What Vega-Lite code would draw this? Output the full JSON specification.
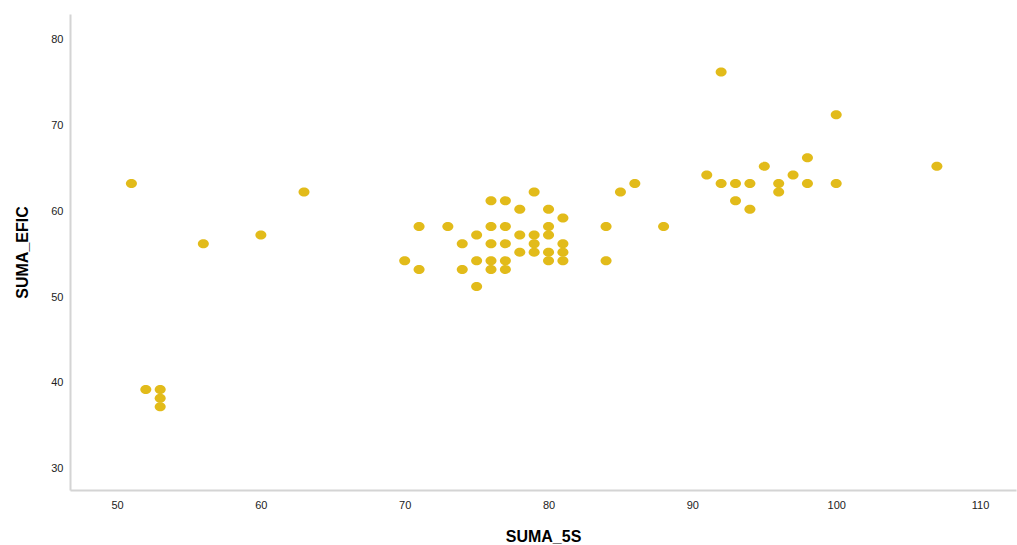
{
  "$schema": "https://vega.github.io/schema/vega-lite/v6.json",
  "width": 946,
  "height": 476,
  "autosize": {"type": "none"},
  "padding": {"left": 70, "top": 14, "right": 1, "bottom": 55},
  "background": "white",
  "config": {"view": {"stroke": null}},
  "data": {"values": [
    {"SUMA_5S": 51, "SUMA_EFIC": 63},
    {"SUMA_5S": 52, "SUMA_EFIC": 39},
    {"SUMA_5S": 53, "SUMA_EFIC": 39},
    {"SUMA_5S": 53, "SUMA_EFIC": 38},
    {"SUMA_5S": 53, "SUMA_EFIC": 37},
    {"SUMA_5S": 56, "SUMA_EFIC": 56},
    {"SUMA_5S": 60, "SUMA_EFIC": 57},
    {"SUMA_5S": 63, "SUMA_EFIC": 62},
    {"SUMA_5S": 70, "SUMA_EFIC": 54},
    {"SUMA_5S": 71, "SUMA_EFIC": 58},
    {"SUMA_5S": 71, "SUMA_EFIC": 53},
    {"SUMA_5S": 73, "SUMA_EFIC": 58},
    {"SUMA_5S": 74, "SUMA_EFIC": 56},
    {"SUMA_5S": 74, "SUMA_EFIC": 53},
    {"SUMA_5S": 75, "SUMA_EFIC": 57},
    {"SUMA_5S": 75, "SUMA_EFIC": 54},
    {"SUMA_5S": 75, "SUMA_EFIC": 51},
    {"SUMA_5S": 76, "SUMA_EFIC": 61},
    {"SUMA_5S": 76, "SUMA_EFIC": 58},
    {"SUMA_5S": 76, "SUMA_EFIC": 56},
    {"SUMA_5S": 76, "SUMA_EFIC": 54},
    {"SUMA_5S": 76, "SUMA_EFIC": 53},
    {"SUMA_5S": 77, "SUMA_EFIC": 61},
    {"SUMA_5S": 77, "SUMA_EFIC": 58},
    {"SUMA_5S": 77, "SUMA_EFIC": 56},
    {"SUMA_5S": 77, "SUMA_EFIC": 54},
    {"SUMA_5S": 77, "SUMA_EFIC": 53},
    {"SUMA_5S": 78, "SUMA_EFIC": 60},
    {"SUMA_5S": 78, "SUMA_EFIC": 57},
    {"SUMA_5S": 78, "SUMA_EFIC": 55},
    {"SUMA_5S": 79, "SUMA_EFIC": 62},
    {"SUMA_5S": 79, "SUMA_EFIC": 57},
    {"SUMA_5S": 79, "SUMA_EFIC": 56},
    {"SUMA_5S": 79, "SUMA_EFIC": 55},
    {"SUMA_5S": 80, "SUMA_EFIC": 60},
    {"SUMA_5S": 80, "SUMA_EFIC": 58},
    {"SUMA_5S": 80, "SUMA_EFIC": 57},
    {"SUMA_5S": 80, "SUMA_EFIC": 55},
    {"SUMA_5S": 80, "SUMA_EFIC": 54},
    {"SUMA_5S": 81, "SUMA_EFIC": 59},
    {"SUMA_5S": 81, "SUMA_EFIC": 56},
    {"SUMA_5S": 81, "SUMA_EFIC": 55},
    {"SUMA_5S": 81, "SUMA_EFIC": 54},
    {"SUMA_5S": 84, "SUMA_EFIC": 58},
    {"SUMA_5S": 84, "SUMA_EFIC": 54},
    {"SUMA_5S": 85, "SUMA_EFIC": 62},
    {"SUMA_5S": 86, "SUMA_EFIC": 63},
    {"SUMA_5S": 88, "SUMA_EFIC": 58},
    {"SUMA_5S": 91, "SUMA_EFIC": 64},
    {"SUMA_5S": 92, "SUMA_EFIC": 76},
    {"SUMA_5S": 92, "SUMA_EFIC": 63},
    {"SUMA_5S": 93, "SUMA_EFIC": 63},
    {"SUMA_5S": 93, "SUMA_EFIC": 61},
    {"SUMA_5S": 94, "SUMA_EFIC": 63},
    {"SUMA_5S": 94, "SUMA_EFIC": 60},
    {"SUMA_5S": 95, "SUMA_EFIC": 65},
    {"SUMA_5S": 96, "SUMA_EFIC": 63},
    {"SUMA_5S": 96, "SUMA_EFIC": 62},
    {"SUMA_5S": 97, "SUMA_EFIC": 64},
    {"SUMA_5S": 98, "SUMA_EFIC": 66},
    {"SUMA_5S": 98, "SUMA_EFIC": 63},
    {"SUMA_5S": 100, "SUMA_EFIC": 71},
    {"SUMA_5S": 100, "SUMA_EFIC": 63},
    {"SUMA_5S": 107, "SUMA_EFIC": 65}
  ]},
  "mark": {
    "type": "point",
    "filled": true,
    "opacity": 1,
    "color": "#e2bb1a",
    "shape": "M-1.1,0A1.1,0.9 0 1,0 1.1,0A1.1,0.9 0 1,0 -1.1,0Z",
    "size": 100
  },
  "encoding": {
    "x": {
      "field": "SUMA_5S", "type": "quantitative",
      "scale": {"domain": [46.73, 112.5], "nice": false, "zero": false},
      "axis": {
        "values": [50, 60, 70, 80, 90, 100, 110],
        "title": "SUMA_5S", "grid": false, "ticks": false,
        "domainColor": "#d4d4d4", "domainWidth": 2,
        "labelFont": "Liberation Sans", "labelFontSize": 11, "labelColor": "#222222",
        "labelPadding": 9, "labelFlush": false,
        "titleFont": "Liberation Sans", "titleFontSize": 16, "titleFontWeight": "bold", "titleColor": "#000000",
        "titlePadding": 18
      }
    },
    "y": {
      "field": "SUMA_EFIC", "type": "quantitative",
      "scale": {"domain": [27.3, 82.75], "nice": false, "zero": false},
      "axis": {
        "values": [30, 40, 50, 60, 70, 80],
        "title": "SUMA_EFIC", "grid": false, "ticks": false,
        "domainColor": "#d4d4d4", "domainWidth": 2,
        "labelFont": "Liberation Sans", "labelFontSize": 11, "labelColor": "#222222",
        "labelPadding": 7, "labelFlush": false, "labelOffset": 2,
        "titleFont": "Liberation Sans", "titleFontSize": 16, "titleFontWeight": "bold", "titleColor": "#000000",
        "titlePadding": 20
      }
    }
  }
}
